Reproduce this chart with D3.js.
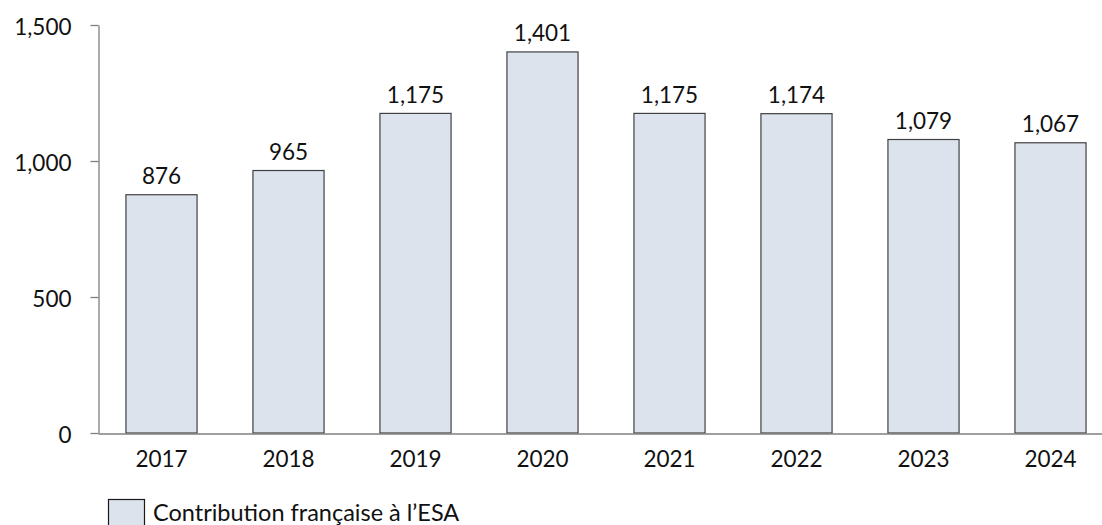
<!DOCTYPE html>
<html>
<head>
<meta charset="utf-8">
<script src="https://cdn.jsdelivr.net/npm/d3@7"></script>
<style>
  html, body { margin: 0; padding: 0; background: #ffffff; }
  svg { display: block; }
  text { font-family: Lato, "Open Sans", sans-serif; fill: #111111; }
</style>
</head>
<body>
<svg id="chart" width="1102" height="525"></svg>
<script>
// Contribution française à l'ESA, by year
const years = ["2017", "2018", "2019", "2020", "2021", "2022", "2023", "2024"];
const contributions = [876, 965, 1175, 1401, 1175, 1174, 1079, 1067];
const yTicks = [0, 500, 1000, 1500];
const seriesName = "Contribution française à l’ESA";

const svg = d3.select("#chart");
const fmt = d3.format(",");
const labelSize = 22.5;

const x = d3.scaleBand().domain(years).range([98, 1114]).paddingInner(0.44).paddingOuter(0.22);
const y = d3.scaleLinear().domain([0, 1500]).range([433, 25]);

// Y axis
const yAxis = svg.append("g")
  .attr("transform", "translate(98.5,0)")
  .call(d3.axisLeft(y).tickValues(yTicks).tickFormat(fmt).tickSize(8).tickPadding(19).tickSizeOuter(0));
yAxis.select(".domain").attr("stroke", "#7f7f7f").attr("stroke-width", 1.3);
yAxis.selectAll(".tick line").attr("stroke", "#7f7f7f").attr("stroke-width", 1.3);
yAxis.selectAll(".tick text").attr("font-size", labelSize).attr("fill", "#111111").attr("dy", "0.42em");

// Bars
svg.append("g").selectAll("rect")
  .data(years)
  .join("rect")
  .attr("x", (d) => x(d))
  .attr("y", (d, i) => y(contributions[i]))
  .attr("width", x.bandwidth())
  .attr("height", (d, i) => y(0) - y(contributions[i]))
  .attr("fill", "#dce3ed")
  .attr("stroke", "#404040")
  .attr("stroke-width", 1.2);

// X axis
const xAxis = svg.append("g")
  .attr("transform", "translate(0,433.5)")
  .call(d3.axisBottom(x).tickSize(0).tickPadding(17).tickSizeOuter(0));
xAxis.select(".domain").attr("stroke", "#7f7f7f").attr("stroke-width", 1.3);
xAxis.selectAll(".tick text")
  .attr("font-size", labelSize)
  .attr("fill", "#111111")
  .attr("y", 33)
  .attr("dy", 0);

// Value labels
svg.append("g").selectAll("text")
  .data(years)
  .join("text")
  .attr("x", (d) => x(d) + x.bandwidth() / 2)
  .attr("y", (d, i) => y(contributions[i]) - 10.5)
  .attr("text-anchor", "middle")
  .attr("font-size", labelSize)
  .text((d, i) => fmt(contributions[i]));

// Legend
const legend = svg.append("g").attr("transform", "translate(108,499)");
legend.append("rect")
  .attr("x", 0.5).attr("y", 0.5)
  .attr("width", 36).attr("height", 30)
  .attr("fill", "#dce3ed")
  .attr("stroke", "#1a1a1a")
  .attr("stroke-width", 1.2);
legend.append("text")
  .attr("x", 45).attr("y", 22)
  .attr("font-size", 23.5)
  .text(seriesName);
</script>
</body>
</html>
